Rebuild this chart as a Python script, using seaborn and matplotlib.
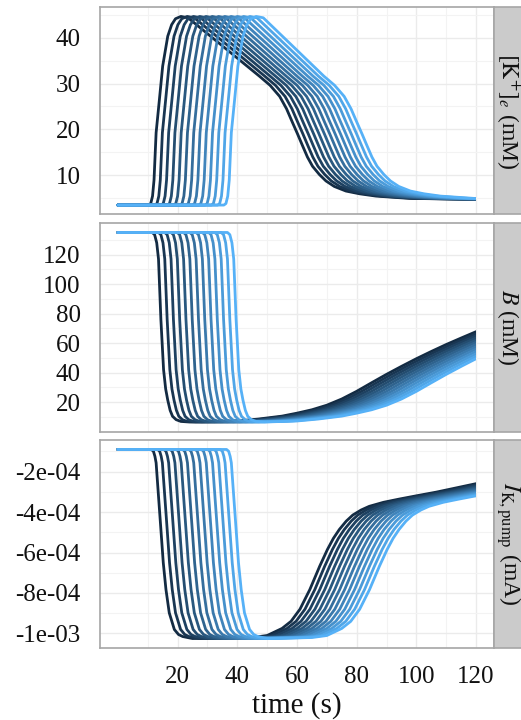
import numpy as np
import pandas as pd
import matplotlib
matplotlib.use("Agg")
import matplotlib.pyplot as plt
from matplotlib.patches import Rectangle
from matplotlib.ticker import FuncFormatter
import seaborn as sns

# ---------------- data ----------------
curve_ids = [f"c{i:02d}" for i in range(1, 14)]

# time shift of each curve relative to the first (darkest) one, per phase
zero_shift     = [0.0] * 13
onset_shift    = [0.0, 2.1, 4.2, 6.3, 8.4, 10.5, 12.6, 14.7, 16.8, 18.9, 21.0, 23.1, 25.2]
decline_shift  = [0.0, 1.8, 3.6, 5.4, 7.2, 9.0, 10.8, 12.6, 14.4, 16.2, 18.0, 19.8, 21.6]
recovery_shift = [0.0, 1.67, 3.33, 5.0, 6.67, 8.33, 10.0, 11.67, 13.33, 15.0, 16.67, 18.33, 20.0]

# panel 1: [K+]e (mM), darkest curve key points
k_time  = [0, 10.3, 11.0, 11.6, 12.1, 12.8, 13.9, 15.0, 16.7, 18.0, 19.3, 21.1, 23.5,
           47.4, 51.0, 54.2, 56.5, 58.5, 60.2, 61.9, 63.5, 65.2, 67.5, 69.7, 72.5, 76.4,
           81.0, 86.5, 97.7, 120]
k_value = [3.55, 3.55, 3.9, 5.5, 9.0, 19.3, 26.5, 33.8, 40.3, 42.8, 44.1, 44.6, 44.3,
           31.6, 29.6, 27.2, 24.5, 21.5, 19.0, 16.4, 14.0, 12.0, 10.2, 8.8, 7.6, 6.6,
           6.0, 5.5, 5.0, 4.8]
k_phase = ["fix"] + ["on"] * 12 + ["dec"] * 17

# panel 2: B (mM)
b_time  = [0, 11.5, 12.3, 13.0, 13.6, 14.4, 15.3, 16.0, 16.7, 17.5, 18.3, 19.5, 21.1, 24.0,
           40.0, 47.0, 55.0, 60.0, 65.0, 70.0, 75.0, 80.0, 85.0, 90.0, 95.0, 100.0,
           105.0, 110.0, 115.0, 120]
b_value = [135, 135, 133.5, 128, 117, 76, 42, 29, 21.4, 14.5, 10.5, 8.2, 7.0, 6.6,
           7.3, 8.6, 10.6, 12.6, 14.9, 18.0, 22.2, 27.4, 33.2, 38.9, 44.3, 49.5,
           54.4, 59.1, 63.5, 67.8]
b_phase = ["fix"] + ["on"] * 13 + ["rec"] * 16

# panel 3: I_K,pump (mA)
i_time  = [0, 11.2, 11.9, 12.4, 12.8, 13.6, 14.4, 15.2, 16.1, 17.2, 18.9, 20.3, 21.7, 25.0,
           45.0, 50.0, 55.0, 58.0, 61.0, 64.3, 67.6, 70.2, 72.2, 74.2, 76.5, 78.7, 81.5,
           84.2, 89.0, 94.3, 100.0, 106.6, 113.0, 120]
i_value = [-0.91e-4, -0.91e-4, -1.0e-4, -1.25e-4, -1.57e-4, -3.22e-4, -4.86e-4, -6.51e-4,
           -7.83e-4, -8.98e-4, -9.8e-4, -10.05e-4, -10.15e-4, -10.25e-4,
           -10.2e-4, -10.1e-4, -9.75e-4, -9.4e-4, -8.8e-4, -7.83e-4, -6.68e-4, -5.85e-4,
           -5.3e-4, -4.86e-4, -4.45e-4, -4.15e-4, -3.9e-4, -3.72e-4, -3.52e-4, -3.36e-4,
           -3.2e-4, -3.02e-4, -2.82e-4, -2.6e-4]
i_phase = ["fix"] + ["on"] * 13 + ["rec"] * 20

x_ticks = [20, 40, 60, 80, 100, 120]
k_ticks = [10, 20, 30, 40]
b_ticks = [20, 40, 60, 80, 100, 120]
i_ticks = [-2e-4, -4e-4, -6e-4, -8e-4, -1e-3]
strip_labels = [r"$[\mathrm{K}^{+}]_{e}$ (mM)", r"$B$ (mM)", r"$I_{\mathrm{K,pump}}$ (mA)"]

shifts = {"fix": zero_shift, "on": onset_shift, "dec": decline_shift, "rec": recovery_shift}


def build(ts, vs, phases):
    rows = []
    for i, cid in enumerate(curve_ids):
        for t, v, ph in zip(ts, vs, phases):
            rows.append({"time": t + shifts[ph][i], "value": v, "curve": cid})
    return pd.DataFrame(rows)


panels = [
    (build(k_time, k_value, k_phase), k_ticks, None, [5, 15, 25, 35, 45]),
    (build(b_time, b_value, b_phase), b_ticks, None, [10, 30, 50, 70, 90, 110, 130]),
    (build(i_time, i_value, i_phase), i_ticks, FuncFormatter(lambda v, p: f"{v:.0e}"),
     [-1e-4, -3e-4, -5e-4, -7e-4, -9e-4]),
]

# ---------------- styling ----------------
sns.set_style("white")
plt.rcParams["font.family"] = ["Liberation Serif", "DejaVu Serif"]
plt.rcParams["mathtext.fontset"] = "stix"

palette = dict(zip(curve_ids, sns.blend_palette(["#132B43", "#56B1F7"], 13)))

W, H = 521, 720
fig = plt.figure(figsize=(W / 100, H / 100), dpi=100)
left_px, right_px = 100, 494
panel_px = [(7, 214.5), (223, 431.5), (440, 648)]
border_col = "#A6A6A6"

for (df, yt, fmt, yminor), (top, bot), slabel in zip(panels, panel_px, strip_labels):
    ax = fig.add_axes([left_px / W, 1 - bot / H, (right_px - left_px) / W, (bot - top) / H])
    sns.lineplot(data=df, x="time", y="value", hue="curve", hue_order=curve_ids,
                 palette=palette, estimator=None, sort=False, legend=False,
                 linewidth=2.0, ax=ax)
    vmin, vmax = min(df["value"]), max(df["value"])
    pad = 0.05 * (vmax - vmin)
    ax.set_ylim(vmin - pad, vmax + pad)
    ax.set_xlim(-6, 126)
    clip = Rectangle((-10, vmin - 2 * pad), 130, (vmax - vmin) + 4 * pad, transform=ax.transData)
    for ln in ax.lines:
        ln.set_clip_path(clip)
    ax.set_xticks(x_ticks)
    ax.set_xticks([10, 30, 50, 70, 90, 110], minor=True)
    ax.set_yticks(yt)
    ax.set_yticks(yminor, minor=True)
    if fmt is not None:
        ax.yaxis.set_major_formatter(fmt)
    ax.grid(which="major", color="#EBEBEB", linewidth=1.0)
    ax.grid(which="minor", color="#F3F3F3", linewidth=0.8)
    ax.set_axisbelow(True)
    ax.tick_params(which="major", length=8, width=1.2, color="#6E6E6E",
                   labelsize=18, labelcolor="#111111")
    ax.tick_params(axis="y", pad=6)
    ax.tick_params(axis="x", pad=5)
    ax.tick_params(which="minor", length=0)
    ax.set_xlabel("")
    ax.set_ylabel("")
    if bot < 600:
        ax.tick_params(axis="x", which="both", labelbottom=False, length=0)
    for sp in ax.spines.values():
        sp.set_color(border_col)
        sp.set_linewidth(1.2)
    # facet strip on the right
    fig.patches.append(Rectangle((right_px / W, 1 - bot / H), 40 / W, (bot - top) / H,
                                 transform=fig.transFigure, facecolor="#CBCBCB",
                                 edgecolor=border_col, linewidth=1.2, zorder=0))
    fig.text(508 / W, 1 - (top + bot) / 2 / H, slabel, rotation=-90, ha="center",
             va="center", fontsize=17, color="#111111")

fig.text((left_px + right_px) / 2 / W, 1 - 706 / H, "time (s)", ha="center", va="center",
         fontsize=21, color="#111111")

fig.savefig("out.png", dpi=100)
